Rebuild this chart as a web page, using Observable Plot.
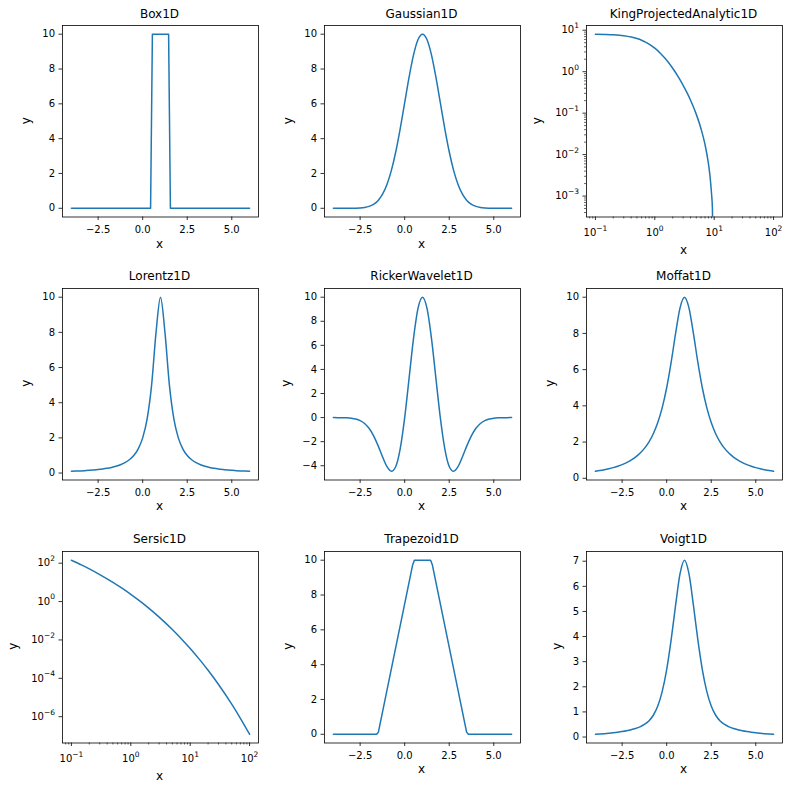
<!DOCTYPE html>
<html>
<head>
<meta charset="utf-8">
<script src="https://cdn.jsdelivr.net/npm/d3@7"></script>
<script src="https://cdn.jsdelivr.net/npm/@observablehq/plot@0.6"></script>
<style>
html, body { margin: 0; padding: 0; background: #fff; }
#fig { position: relative; width: 790px; height: 791px; overflow: hidden; background: #fff; }
#fig svg { position: absolute; }
</style>
</head>
<body>
<div id="fig"></div>
<script>
// ---------------- data ----------------
const xLin = [-4,-3.75,-3.5,-3.25,-3,-2.75,-2.5,-2.25,-2,-1.75,-1.5,-1.25,-1,-0.75,-0.5,-0.25,0,0.25,0.5,0.75,1,1.25,1.5,1.75,2,2.25,2.5,2.75,3,3.25,3.5,3.75,4,4.25,4.5,4.75,5,5.25,5.5,5.75,6];

const boxX = [-4, 0.444, 0.545, 1.455, 1.556, 6];
const boxY = [0, 0, 10, 10, 0, 0];

const gaussianY = [0,0,0,0,0.003,0.009,0.022,0.051,0.111,0.228,0.439,0.796,1.353,2.163,3.247,4.578,6.065,7.548,8.825,9.692,10,9.692,8.825,7.548,6.065,4.578,3.247,2.163,1.353,0.796,0.439,0.228,0.111,0.051,0.022,0.009,0.003,0,0,0,0];

const lorentzY = [0.099,0.110,0.122,0.137,0.154,0.175,0.200,0.231,0.270,0.320,0.385,0.471,0.588,0.755,1.000,1.379,2.000,3.077,5.000,8.000,10,8.000,5.000,3.077,2.000,1.379,1.000,0.755,0.588,0.471,0.385,0.320,0.270,0.231,0.200,0.175,0.154,0.137,0.122,0.110,0.099];

const rickerY = [-0.001,-0.003,-0.008,-0.020,-0.050,-0.115,-0.246,-0.486,-0.889,-1.496,-2.307,-3.232,-4.060,-4.461,-4.058,-2.575,0,3.302,6.619,9.086,10,9.086,6.619,3.302,0,-2.575,-4.058,-4.461,-4.060,-3.232,-2.307,-1.496,-0.889,-0.486,-0.246,-0.115,-0.050,-0.020,-0.008,-0.003,-0.001];

const moffatY = [0.385,0.424,0.471,0.525,0.588,0.664,0.755,0.865,1.000,1.168,1.379,1.649,2.000,2.462,3.077,3.902,5.000,6.400,8.000,9.412,10,9.412,8.000,6.400,5.000,3.902,3.077,2.462,2.000,1.649,1.379,1.168,1.000,0.865,0.755,0.664,0.588,0.525,0.471,0.424,0.385];

const voigtY = [0.109,0.120,0.133,0.149,0.167,0.189,0.216,0.248,0.288,0.339,0.407,0.502,0.642,0.867,1.233,1.816,2.687,3.865,5.248,6.503,7.04,6.503,5.248,3.865,2.687,1.816,1.233,0.867,0.642,0.502,0.407,0.339,0.288,0.248,0.216,0.189,0.167,0.149,0.133,0.120,0.109];

const trapX = [-4, -1.576, -1.475, 0.444, 0.545, 1.455, 1.556, 3.475, 3.576, 6];
const trapY = [0, 0, 0.126, 9.72, 10, 10, 9.72, 0.126, 0, 0];

// King profile: at r = 10 the curve drops off the bottom of the axis; beyond it the value is 0 (not drawn on a log axis)
const kingX = [0.1,0.15,0.2,0.3,0.4,0.5,0.6,0.7,0.8,1,1.25,1.5,2,2.5,3,3.5,4,5,6,7,8,8.5,9,9.33,10,20,50,100];
const kingY = [8.02,7.91,7.76,7.37,6.87,6.32,5.75,5.18,4.64,3.69,2.76,2.07,1.21,0.739,0.470,0.307,0.205,0.0934,0.0421,0.0176,0.00602,0.00301,0.00119,0.000507,0.000001,0,0,0];
const kingVisibleCount = 24; // points above the axis bottom

const sersicX = [0.1,0.15,0.2,0.3,0.5,0.7,1,1.5,2,3,5,7,10,15,20,30,50,70,100];
const sersicY = [143.1,79.3,50.5,25.6,10,5.10,2.375,0.929,0.455,0.155,0.0350,0.01202,0.003584,0.000810,0.000262,0.0000474,0.00000448,0.000000823,0.000000121];

// ticks and labels
const linXTicks = [-2.5, 0, 2.5, 5];
const y10Ticks = [0, 2, 4, 6, 8, 10];
const rickerYTicks = [-4, -2, 0, 2, 4, 6, 8, 10];
const voigtYTicks = [0, 1, 2, 3, 4, 5, 6, 7];
const logXTicks = [0.1, 1, 10, 100];
const logXLabels = ["10⁻¹", "10⁰", "10¹", "10²"];
const kingYTicks = [0.001, 0.01, 0.1, 1, 10];
const kingYLabels = ["10⁻³", "10⁻²", "10⁻¹", "10⁰", "10¹"];
const sersicYTicks = [1e-6, 1e-4, 1e-2, 1, 100];
const sersicYLabels = ["10⁻⁶", "10⁻⁴", "10⁻²", "10⁰", "10²"];
const minorSubs = [2, 3, 4, 5, 6, 7, 8, 9];
const minorDecades = [1e-4, 1e-3, 1e-2, 1e-1, 1, 10];

const titles = ["Box1D", "Gaussian1D", "KingProjectedAnalytic1D", "Lorentz1D", "RickerWavelet1D", "Moffat1D", "Sersic1D", "Trapezoid1D", "Voigt1D"];

// ---------------- layout ----------------
const BLUE = "#1f77b4";
const COLS = [61.5, 323.5, 585.5];
const ROWS = [25, 287.5, 550.5];
const W = 196, H = 191.5;
const ML = 60, MR = 6, MT = 20, MB = 48;
const FONT = "DejaVu Sans, sans-serif";
const SVGNS = "http://www.w3.org/2000/svg";

function linPad([a, b]) { const p = (b - a) * 0.05; return [a - p, b + p]; }
function logPad([a, b]) {
  const la = Math.log10(a), lb = Math.log10(b), p = (lb - la) * 0.05;
  return [Math.pow(10, la - p), Math.pow(10, lb + p)];
}
function minorWithin([lo, hi]) {
  const out = [];
  for (const d of minorDecades) for (const s of minorSubs) {
    const v = s * d;
    if (v >= lo && v <= hi) out.push(v);
  }
  return out;
}
const fmtX = d3.format(".1f");
const fmtY = d3.format("d");
const lookup = (ticks, labels) => d => labels[ticks.indexOf(d)];
const supMap = {"⁻": "−", "⁰": "0", "¹": "1", "²": "2", "³": "3", "⁴": "4", "⁵": "5", "⁶": "6", "⁷": "7", "⁸": "8", "⁹": "9"};

// render "10⁻¹" style labels as base + raised smaller exponent (like mathtext)
function superscriptify(svg) {
  svg.querySelectorAll("text").forEach(t => {
    const m = t.textContent.match(/^10([⁻⁰¹²³⁴⁵⁶⁷⁸⁹]+)$/);
    if (!m) return;
    t.textContent = "10";
    const ts = document.createElementNS(SVGNS, "tspan");
    ts.setAttribute("dy", "-5.3");
    ts.setAttribute("font-size", "7.5px");
    ts.textContent = [...m[1]].map(c => supMap[c]).join("");
    t.appendChild(ts);
  });
}

const panels = [
  {x: boxX, y: boxY, curve: "linear"},
  {x: xLin, y: gaussianY, curve: "monotone-x"},
  {x: kingX, y: kingY, curve: "monotone-x", log: true, yTicks: kingYTicks, yLabels: kingYLabels, yMinor: true,
   yExtent: d3.extent(kingY.slice(0, kingVisibleCount))},
  {x: xLin, y: lorentzY, curve: "monotone-x"},
  {x: xLin, y: rickerY, curve: "monotone-x", yTicks: rickerYTicks},
  {x: xLin, y: moffatY, curve: "monotone-x"},
  {x: sersicX, y: sersicY, curve: "monotone-x", log: true, yTicks: sersicYTicks, yLabels: sersicYLabels,
   yExtent: d3.extent(sersicY)},
  {x: trapX, y: trapY, curve: "linear"},
  {x: xLin, y: voigtY, curve: "monotone-x", yTicks: voigtYTicks}
];
const yLabelOffsets = [33, 33, 46, 33.5, 35.5, 33.5, 46.5, 33, 26.5];

const fig = document.getElementById("fig");

panels.forEach((p, i) => {
  const col = COLS[i % 3], row = ROWS[Math.floor(i / 3)];
  let data = p.x.map((v, k) => ({x: v, y: p.y[k]}));
  let xScale, yScale, marks = [];
  if (p.log) {
    data = data.filter(d => d.y > 0);
    const xd = logPad(d3.extent(p.x));
    const yd = logPad(p.yExtent);
    xScale = {type: "log", domain: xd};
    yScale = {type: "log", domain: yd};
    marks.push(Plot.line(data, {x: "x", y: "y", stroke: BLUE, strokeWidth: 1.5, curve: p.curve, clip: true}));
    marks.push(Plot.axisX({ticks: minorWithin(xd), tickSize: 2, tickFormat: () => "", strokeWidth: 0.6, label: null}));
    marks.push(Plot.axisX({ticks: logXTicks, tickFormat: lookup(logXTicks, logXLabels), tickSize: 3.5, tickPadding: 8.5, strokeWidth: 0.8, label: null}));
    if (p.yMinor) marks.push(Plot.axisY({ticks: minorWithin(yd), tickSize: 2, tickFormat: () => "", strokeWidth: 0.6, label: null}));
    marks.push(Plot.axisY({ticks: p.yTicks, tickFormat: lookup(p.yTicks, p.yLabels), tickSize: 3.5, tickPadding: 4, strokeWidth: 0.8, label: null}));
  } else {
    xScale = {type: "linear", domain: linPad(d3.extent(p.x))};
    yScale = {type: "linear", domain: linPad(d3.extent(p.y))};
    marks.push(Plot.line(data, {x: "x", y: "y", stroke: BLUE, strokeWidth: 1.5, curve: p.curve, clip: true}));
    marks.push(Plot.axisX({ticks: linXTicks, tickFormat: fmtX, tickSize: 3.5, tickPadding: 5.5, strokeWidth: 0.8, label: null}));
    marks.push(Plot.axisY({ticks: p.yTicks || y10Ticks, tickFormat: fmtY, tickSize: 3.5, tickPadding: 4, strokeWidth: 0.8, label: null}));
  }
  marks.push(Plot.frame({stroke: "black", strokeWidth: 0.8}));
  const svg = Plot.plot({
    width: ML + W + MR, height: MT + H + MB,
    marginLeft: ML, marginRight: MR, marginTop: MT, marginBottom: MB,
    x: xScale, y: yScale,
    style: {fontFamily: FONT, fontSize: "10px", color: "black", background: "none", overflow: "visible"},
    marks
  });
  superscriptify(svg);
  svg.style.position = "absolute";
  svg.style.left = (col - ML) + "px";
  svg.style.top = (row - MT) + "px";
  svg.style.maxWidth = "none";
  fig.appendChild(svg);
});

// overlay: titles and axis labels
const ov = d3.select(fig).append("svg")
  .attr("width", 790).attr("height", 791)
  .style("left", "0px").style("top", "0px")
  .style("font-family", FONT).style("pointer-events", "none");

titles.forEach((t, i) => {
  const col = COLS[i % 3], row = ROWS[Math.floor(i / 3)];
  const isLog = !!panels[i].log;
  ov.append("text").attr("x", col + W / 2).attr("y", row - 7.3)
    .attr("text-anchor", "middle").attr("font-size", 12).attr("fill", "black").text(t);
  ov.append("text").attr("x", col + W / 2).attr("y", row + H + (isLog ? 37.8 : 31))
    .attr("text-anchor", "middle").attr("font-size", 12).attr("fill", "black").text("x");
  const yx = col - yLabelOffsets[i] + 1.9, yy = row + H / 2;
  ov.append("text").attr("transform", `translate(${yx},${yy}) rotate(-90)`)
    .attr("text-anchor", "middle").attr("font-size", 12).attr("fill", "black").text("y");
});
</script>
</body>
</html>
